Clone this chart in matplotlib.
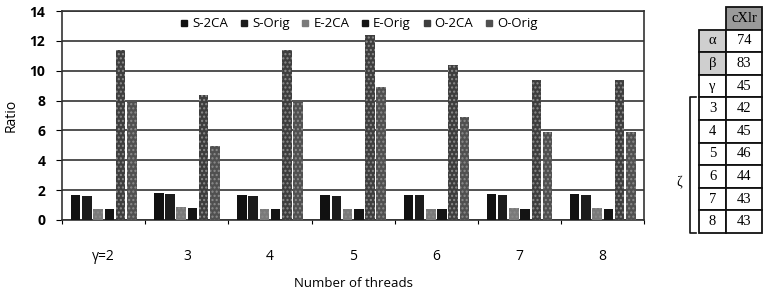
import numpy as np
import matplotlib.pyplot as plt
from matplotlib.lines import Line2D

# data
groups = ["γ=2", "3", "4", "5", "6", "7", "8"]
series = ["S-2CA", "S-Orig", "E-2CA", "E-Orig", "O-2CA", "O-Orig"]
s_2ca = [1.7, 1.8, 1.7, 1.7, 1.7, 1.75, 1.75]
s_orig = [1.6, 1.75, 1.6, 1.6, 1.65, 1.7, 1.7]
e_2ca = [0.75, 0.85, 0.75, 0.75, 0.75, 0.8, 0.8]
e_orig = [0.75, 0.8, 0.75, 0.75, 0.75, 0.75, 0.75]
o_2ca = [11.4, 8.4, 11.4, 12.4, 10.4, 9.4, 9.4]
o_orig = [7.9, 4.95, 7.9, 8.9, 6.9, 5.9, 5.9]

tbl_rows = ["α", "β", "γ", "3", "4", "5", "6", "7", "8"]
tbl_vals = ["74", "83", "45", "42", "45", "46", "44", "43", "43"]
tbl_head = "cXlr"

colors = ["#111111", "#1c1c1c", "#7a7a7a", "#141414", "#3e3e3e", "#505050"]
hatches = ["", "", "....", "", "....", "...."]

fig = plt.figure(figsize=(7.67, 2.92), dpi=100)
ax = fig.add_axes([0.081, 0.247, 0.759, 0.715])

x = np.arange(len(groups))
w = 0.115
step = 0.135
vals = [s_2ca, s_orig, e_2ca, e_orig, o_2ca, o_orig]
for k, v in enumerate(vals):
    ax.bar(x + (k - 2.5) * step, v, w, color=colors[k], hatch=hatches[k],
           edgecolor="#8c8c8c", linewidth=0, zorder=3)

ax.set_xlim(-0.5, len(groups) - 0.5)
ax.set_ylim(0, 14)
ax.set_yticks(range(0, 15, 2))
ax.yaxis.grid(True, color="#222222", linewidth=1.1, zorder=0)
ax.set_xticks(np.arange(-0.5, len(groups), 1.0))
ax.set_xticklabels([])
ax.tick_params(axis="x", which="major", length=3, direction="out")
ax.set_xticks(x, minor=True)
ax.set_xticklabels(groups, minor=True, fontsize=10, family="Open Sans")
ax.tick_params(axis="x", which="minor", length=0, pad=21)
ax.tick_params(axis="y", length=4, labelsize=10, pad=8)
for lb in ax.get_yticklabels():
    lb.set_family("Open Sans")
    lb.set_fontweight("bold")
for sp in ax.spines.values():
    sp.set_color("#333333")
    sp.set_linewidth(1.2)
ax.set_ylabel("Ratio", fontsize=10, family="Open Sans", labelpad=8)
ax.set_xlabel("Number of threads", fontsize=9.5, family="Open Sans", labelpad=9)

handles = [Line2D([], [], marker="s", linestyle="", color=c, markersize=5) for c in colors]
ax.legend(handles, series, loc="center", bbox_to_anchor=(0.51, 0.94), ncol=6,
          frameon=False, handlelength=0.6, handletextpad=0.3, columnspacing=0.9,
          prop={"family": "Open Sans", "size": 9.5})

# side table
tax = fig.add_axes([0.911, 0.202, 0.082, 0.774])
tax.axis("off")
cells = [["", tbl_head]] + [[r, v] for r, v in zip(tbl_rows, tbl_vals)]
tb = tax.table(cellText=cells, bbox=[0, 0, 1, 1], cellLoc="center",
               colWidths=[0.44, 0.56])
tb.auto_set_font_size(False)
for (r, c), cell in tb.get_celld().items():
    cell.set_linewidth(1.3)
    cell.set_edgecolor("#111111")
    cell.get_text().set_fontsize(10.5)
    cell.get_text().set_family("Liberation Serif")
    if r == 0 and c == 0:
        cell.set_visible(False)
    if r == 0 and c == 1:
        cell.set_facecolor("#9a9a9a")
    if r in (1, 2) and c == 0:
        cell.set_facecolor("#cfcfcf")

# bracket for zeta
bx = 0.899
top = 1 - 97 / 292
bot = 1 - 233 / 292
fig.add_artist(Line2D([bx + 0.009, bx, bx, bx + 0.009], [top, top, bot, bot],
                      color="#111111", linewidth=1.2, transform=fig.transFigure))
fig.text(0.885, 1 - 183 / 292, "ζ", ha="center", va="center", fontsize=10,
         family="Liberation Serif")

fig.savefig("out.png", dpi=100)
